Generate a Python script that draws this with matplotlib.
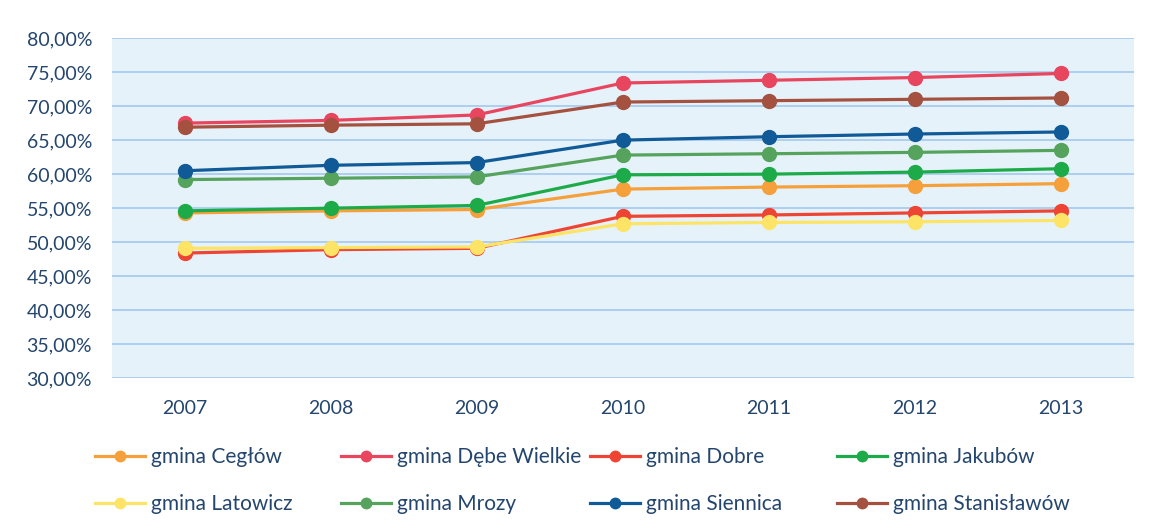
import matplotlib.pyplot as plt
from matplotlib.ticker import FuncFormatter

plt.rcParams['font.family'] = ['Lato', 'DejaVu Sans']

years = ['2007', '2008', '2009', '2010', '2011', '2012', '2013']

ceglow = [54.3, 54.6, 54.8, 57.8, 58.1, 58.3, 58.6]
debe_wielkie = [67.5, 67.9, 68.7, 73.4, 73.8, 74.2, 74.8]
dobre = [48.4, 48.9, 49.1, 53.8, 54.0, 54.3, 54.6]
jakubow = [54.6, 55.0, 55.4, 59.9, 60.0, 60.3, 60.8]
latowicz = [49.1, 49.2, 49.3, 52.7, 52.9, 53.0, 53.2]
mrozy = [59.2, 59.4, 59.6, 62.8, 63.0, 63.2, 63.5]
siennica = [60.5, 61.3, 61.7, 65.0, 65.5, 65.9, 66.2]
stanislawow = [66.9, 67.2, 67.4, 70.6, 70.8, 71.0, 71.2]

names = ['gmina Cegłów', 'gmina Dębe Wielkie', 'gmina Dobre', 'gmina Jakubów',
         'gmina Latowicz', 'gmina Mrozy', 'gmina Siennica', 'gmina Stanisławów']
series = [ceglow, debe_wielkie, dobre, jakubow, latowicz, mrozy, siennica, stanislawow]
colors = ['#f5a03a', '#e8455f', '#ee4433', '#1dab4a',
          '#fde466', '#55a35c', '#105a98', '#a4513f']

text_col = '#24466e'

fig = plt.figure(figsize=(11.5, 5.29), dpi=100)
ax = fig.add_axes([0.097, 0.285, 0.889, 0.643])
ax.set_facecolor('#e6f2fa')

x = list(range(len(years)))
handles = []
for vals, name, c in zip(series, names, colors):
    h, = ax.plot(x, vals, color=c, lw=2.3, marker='o', markersize=10, label=name)
    handles.append(h)

ax.set_xlim(-0.5, len(years) - 0.5)
ax.set_ylim(30, 80)
ax.set_yticks(range(30, 81, 5))
ax.yaxis.set_major_formatter(FuncFormatter(lambda v, p: f'{v:.2f}%'.replace('.', ',')))
ax.set_xticks(x)
ax.set_xticklabels(years)
ax.grid(axis='y', color='#a3c9ef', lw=1.2)
ax.set_axisbelow(True)
for s in ax.spines.values():
    s.set_visible(False)
ax.tick_params(length=0, labelsize=14, colors=text_col)
ax.tick_params(axis='x', pad=16)
ax.tick_params(axis='y', pad=14)

# one small legend per column, two rows each
col_x = [95, 341, 590, 837]
for j, cx in enumerate(col_x):
    fig.legend([handles[j], handles[j + 4]], [names[j], names[j + 4]],
               loc='center left', bbox_to_anchor=(cx / 1150, 1 - 480.5 / 529),
               frameon=False, borderpad=0, borderaxespad=0, fontsize=15,
               labelcolor=text_col, handlelength=2.4, handletextpad=0.3,
               labelspacing=1.3, markerscale=0.75)

fig.savefig('out.png', dpi=100)
